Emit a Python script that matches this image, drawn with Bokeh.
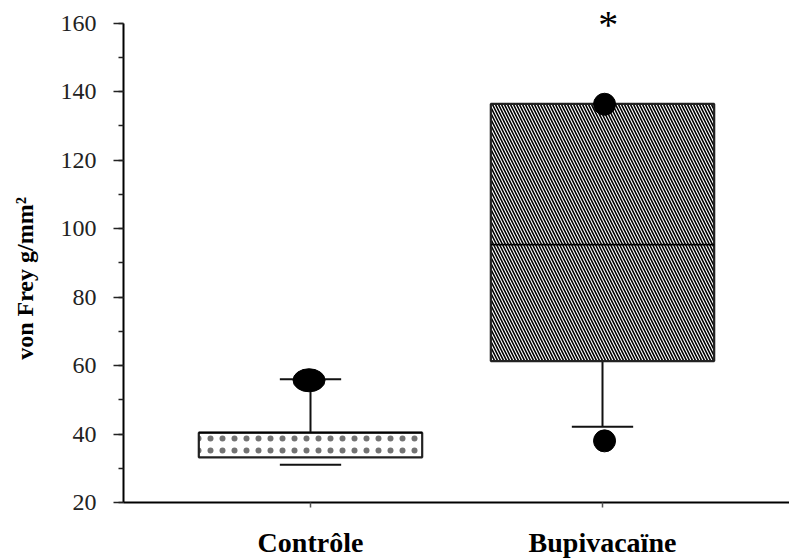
from bokeh.plotting import figure
from bokeh.models import ColumnDataSource, FixedTicker, Range1d
from bokeh.core.properties import value
from bokeh.embed import file_html
from bokeh.resources import INLINE

# ---- data ----
groups = ["Contrôle", "Bupivacaïne"]
group_x = [1, 2]
q1 = [33.2, 61.3]
q3 = [40.4, 136.4]
medians = [40.4, 95.3]
whisker_low = [31.05, 42.1]
whisker_high = [56.0, 136.4]
hatches = ["dot", "left_diagonal_line"]
hatch_scales = [12, 6]
hatch_weights = [0.5, 1.6]
hatch_alphas = [0.55, 1.0]

outlier_x = [0.995, 2.007, 2.007]
outlier_y = [55.7, 136.3, 38.0]
outlier_w = [32, 22, 22]
outlier_h = [23, 22, 22]

star_x = [2.02]
star_y = [159.5]
star_text = ["*"]

y_ticks = [20, 40, 60, 80, 100, 120, 140, 160]

box_width = 0.765
cap_width = 0.21

FONT = "Liberation Serif"

p = figure(width=789, height=560, output_backend="svg", toolbar_location=None,
           x_range=Range1d(0.3596, 2.6404), y_range=Range1d(20, 166.6),
           min_border_left=123, min_border_right=0, min_border_top=0,
           min_border_bottom=56, outline_line_color=None)
p.grid.visible = False
p.background_fill_color = "white"
p.border_fill_color = "white"

box_src = ColumnDataSource(dict(
    x=group_x, q1=q1, q3=q3, med=medians, lo=whisker_low, hi=whisker_high,
    hatch=hatches, hs=hatch_scales, hw=hatch_weights, ha=hatch_alphas,
    left=[g - box_width / 2 for g in group_x],
    right=[g + box_width / 2 for g in group_x],
    cl=[g - cap_width / 2 for g in group_x],
    cr=[g + cap_width / 2 for g in group_x],
))

# upper whisker stems (box top -> upper whisker)
p.segment(x0="x", y0="q3", x1="x", y1="hi", source=box_src,
          line_color="#111111", line_width=2)
# lower whisker stem (Bupivacaïne only is visible)
p.segment(x0="x", y0="lo", x1="x", y1="q1",
          source=ColumnDataSource(dict(x=group_x[1:], lo=whisker_low[1:], q1=q1[1:])),
          line_color="#111111", line_width=2)
# caps
p.segment(x0="cl", y0="hi", x1="cr", y1="hi",
          source=ColumnDataSource(dict(cl=[group_x[0] - cap_width / 2],
                                       cr=[group_x[0] + cap_width / 2],
                                       hi=whisker_high[:1])),
          line_color="#111111", line_width=2)
p.segment(x0="cl", y0="lo", x1="cr", y1="lo", source=box_src,
          line_color="#111111", line_width=2)

# boxes
p.quad(left="left", right="right", bottom="q1", top="q3", source=box_src,
       fill_color="white", line_color="#222222", line_width=2.2,
       hatch_pattern="hatch", hatch_scale="hs", hatch_weight="hw",
       hatch_alpha="ha", hatch_color="black")
# medians
p.segment(x0="left", y0="med", x1="right", y1="med", source=box_src,
          line_color="black", line_width=1.8)

# outliers
p.ellipse(x=outlier_x, y=outlier_y, width=outlier_w, height=outlier_h,
          width_units="screen", height_units="screen",
          fill_color="black", line_color="black")

# significance star
p.text(x=star_x, y=star_y, text=star_text, text_font=value(FONT),
       text_font_size="40px", text_align="center", text_baseline="middle",
       text_color="black")

# axes
yax = p.yaxis[0]
yax.ticker = FixedTicker(ticks=y_ticks, minor_ticks=list(range(20, 161, 10)))
yax.bounds = (20, 160)
yax.axis_line_width = 2
yax.axis_line_color = "black"
yax.major_tick_out = 10
yax.major_tick_in = 0
yax.minor_tick_out = 5
yax.minor_tick_in = 0
yax.major_tick_line_width = 1.5
yax.minor_tick_line_width = 1.5
yax.major_tick_line_color = "#222222"
yax.minor_tick_line_color = "#222222"
yax.major_label_text_font = FONT
yax.major_label_text_font_size = "24px"
yax.major_label_text_color = "#222222"
yax.major_label_standoff = 17
yax.axis_label = "von Frey g/mm²" + "\u00a0" * 9
yax.axis_label_text_font = FONT
yax.axis_label_text_font_style = "bold"
yax.axis_label_text_font_size = "24px"
yax.axis_label_text_color = "black"
yax.axis_label_standoff = 20

xax = p.xaxis[0]
xax.ticker = FixedTicker(ticks=group_x, minor_ticks=[])
xax.major_label_overrides = {g: lab for g, lab in zip(group_x, groups)}
xax.axis_line_width = 2
xax.axis_line_color = "black"
xax.major_tick_out = 5
xax.major_tick_in = 0
xax.major_tick_line_width = 1.5
xax.major_tick_line_color = "#555555"
xax.minor_tick_out = 0
xax.major_label_text_font = FONT
xax.major_label_text_font_style = "bold"
xax.major_label_text_font_size = "28px"
xax.major_label_text_color = "black"
xax.major_label_standoff = 19

open("out.html", "w").write(file_html(p, INLINE))
